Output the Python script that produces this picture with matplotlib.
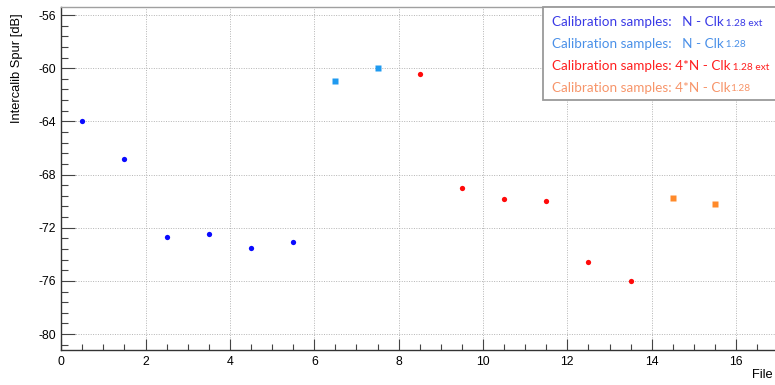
import matplotlib
matplotlib.use("Agg")
import matplotlib.pyplot as plt
from matplotlib.ticker import MultipleLocator

# Spur level per file, split by calibration sample set
n_ext_x = [0.5, 1.5, 2.5, 3.5, 4.5, 5.5]
n_ext_y = [-64.0, -66.8, -72.7, -72.45, -73.5, -73.05]

n_int_x = [6.5, 7.5]
n_int_y = [-61.0, -60.0]

n4_ext_x = [8.5, 9.5, 10.5, 11.5, 12.5, 13.5]
n4_ext_y = [-60.45, -69.0, -69.85, -70.0, -74.55, -76.0]

n4_int_x = [14.5, 15.5]
n4_int_y = [-69.75, -70.25]

legend_main = [
    "Calibration samples:   N - Clk",
    "Calibration samples:   N - Clk",
    "Calibration samples: 4*N - Clk",
    "Calibration samples: 4*N - Clk",
]
legend_sub = [" 1.28 ext", " 1.28", " 1.28 ext", "1.28"]
legend_colors = ["#3a3ae6", "#4a90e8", "#ff1f1f", "#f7956a"]

W, H = 775, 385
fig = plt.figure(figsize=(W / 100, H / 100), dpi=100)
fig.patch.set_facecolor("white")

ax_left, ax_bottom, ax_top = 61.2, 350.0, 7.3
ax = fig.add_axes([ax_left / W, 1 - ax_bottom / H, 1 - ax_left / W, (ax_bottom - ax_top) / H])

ax.plot(n_ext_x, n_ext_y, "o", color="#0a0aff", ms=3.8, mec="none", zorder=3)
ax.plot(n_int_x, n_int_y, "s", color="#1f9af0", ms=4.6, mec="none", zorder=3)
ax.plot(n4_ext_x, n4_ext_y, "o", color="#ff0a0a", ms=3.8, mec="none", zorder=3)
ax.plot(n4_int_x, n4_int_y, "s", color="#ff8a2a", ms=4.6, mec="none", zorder=3)

xmax = (W - ax_left) / 42.18
ax.xaxis.set_major_locator(MultipleLocator(2))
ax.xaxis.set_minor_locator(MultipleLocator(0.5))
ax.yaxis.set_major_locator(MultipleLocator(4))
ax.yaxis.set_minor_locator(MultipleLocator(0.8))
ax.set_xlim(0, xmax)
ax.set_ylim(-81.2, -55.42)

tick_font = dict(family="Liberation Sans", size=8.8)
xt = [v for v in ax.get_xticks() if 0 <= v <= xmax]
yt = [v for v in ax.get_yticks() if -81.2 <= v <= -55.42]
ax.set_xticks(xt)
ax.set_xticklabels([f"{int(v)}" for v in xt], **tick_font)
ax.set_yticks(yt)
ax.set_yticklabels([f"{int(v)}" for v in yt], **tick_font)
ax.set_xlim(0, xmax)
ax.set_ylim(-81.2, -55.42)

ax.tick_params(axis="both", which="both", direction="in", color="#444444",
               labelcolor="black", width=0.8)
ax.tick_params(axis="x", which="major", length=8, pad=4)
ax.tick_params(axis="x", which="minor", length=4)
ax.tick_params(axis="y", which="major", length=10, pad=4)
ax.tick_params(axis="y", which="minor", length=5)

ax.grid(True, which="major", color="#b4b4b4", linestyle=(0, (1, 1.5)), linewidth=0.7)
ax.set_axisbelow(True)

for side in ("left", "bottom"):
    ax.spines[side].set_color("#333333")
    ax.spines[side].set_linewidth(1.0)
ax.spines["top"].set_color("#a0a0a0")
ax.spines["top"].set_linewidth(1.0)
ax.spines["right"].set_visible(False)

label_font = dict(family="Liberation Sans", size=9.3, color="black")
fig.text(17 / W, 1 - 13 / H, "Intercalib Spur [dB]", rotation=90,
         ha="center", va="top", **label_font)
fig.text(773 / W, 1 - 369 / H, "File", ha="right", va="top", **label_font)

# Legend box with coloured entries
box = plt.Rectangle((542.7 / W, 1 - 100 / H), (W + 5 - 542.7) / W, (100 - 7.3) / H,
                    transform=fig.transFigure, facecolor="white",
                    edgecolor="#9a9a9a", linewidth=1.3, zorder=5)
fig.add_artist(box)

fig.canvas.draw()
renderer = fig.canvas.get_renderer()
line_y = [22, 43.5, 66, 87.5]
for main, sub, col, yy in zip(legend_main, legend_sub, legend_colors, line_y):
    t = fig.text(551.7 / W, 1 - yy / H, main, color=col, family="Lato",
                 size=9.7, ha="left", va="center", zorder=6)
    bb = t.get_window_extent(renderer)
    fig.text(bb.x1 / W, 1 - (yy + 1.0) / H, sub, color=col, family="Lato",
             size=7.3, ha="left", va="center", zorder=6)

fig.savefig("out.png", dpi=100, facecolor="white")
